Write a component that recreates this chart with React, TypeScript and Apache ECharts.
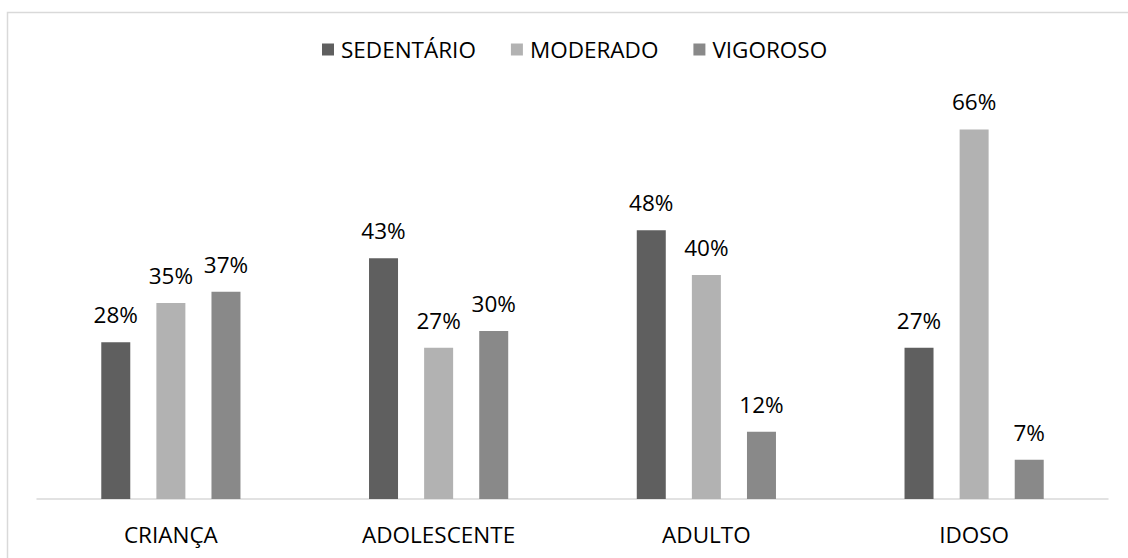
import React, { useEffect, useRef } from "react";
import * as echarts from "echarts";

const categories = ["CRIANÇA", "ADOLESCENTE", "ADULTO", "IDOSO"];
const seriesNames = ["SEDENTÁRIO", "MODERADO", "VIGOROSO"];
const sedentario = [28, 43, 48, 27];
const moderado = [35, 27, 40, 66];
const vigoroso = [37, 30, 12, 7];
const colors = ["#5f5f5f", "#b2b2b2", "#898989"];

const FONT = "Open Sans";
const FS = 22.5;

export default function App() {
  const ref = useRef<HTMLDivElement>(null);
  useEffect(() => {
    if (!ref.current) return;
    const chart = echarts.init(ref.current, null, { renderer: "svg" });
    const values = [sedentario, moderado, vigoroso];
    chart.setOption({
      animation: false,
      backgroundColor: "#ffffff",
      textStyle: { fontFamily: FONT },
      graphic: [
        {
          type: "rect",
          shape: { x: 7.5, y: 12.5, width: 1200, height: 700 },
          style: { fill: "none", stroke: "#d9d9d9", lineWidth: 1.5 },
          silent: true,
          z: -1,
        },
      ],
      legend: {
        top: 33,
        left: 317,
        itemWidth: 12,
        itemHeight: 12,
        itemGap: 35,
        icon: "rect",
        textStyle: { fontFamily: FONT, fontSize: FS, color: "#000", padding: [0, 0, 0, 2] },
        data: seriesNames,
      },
      grid: { left: 37, right: 20, top: 107, bottom: 59, containLabel: false },
      xAxis: {
        type: "category",
        data: categories,
        axisLine: { show: true, lineStyle: { color: "#d9d9d9", width: 1.5 } },
        axisTick: { show: false },
        axisLabel: { fontFamily: FONT, fontSize: FS, color: "#000", margin: 24 },
      },
      yAxis: {
        type: "value",
        min: 0,
        max: 70,
        show: false,
        splitLine: { show: false },
      },
      series: seriesNames.map((name, i) => ({
        name,
        type: "bar",
        data: values[i],
        barWidth: 29,
        barGap: "90%",
        itemStyle: { color: colors[i] },
        label: {
          show: true,
          position: "top",
          distance: 16,
          formatter: "{c}%",
          fontFamily: FONT,
          fontSize: FS,
          color: "#000",
        },
      })),
    });
    return () => chart.dispose();
  }, []);
  return (
    <div
      ref={ref}
      style={{ position: "fixed", left: 0, top: 0, width: 1128, height: 558 }}
    />
  );
}
